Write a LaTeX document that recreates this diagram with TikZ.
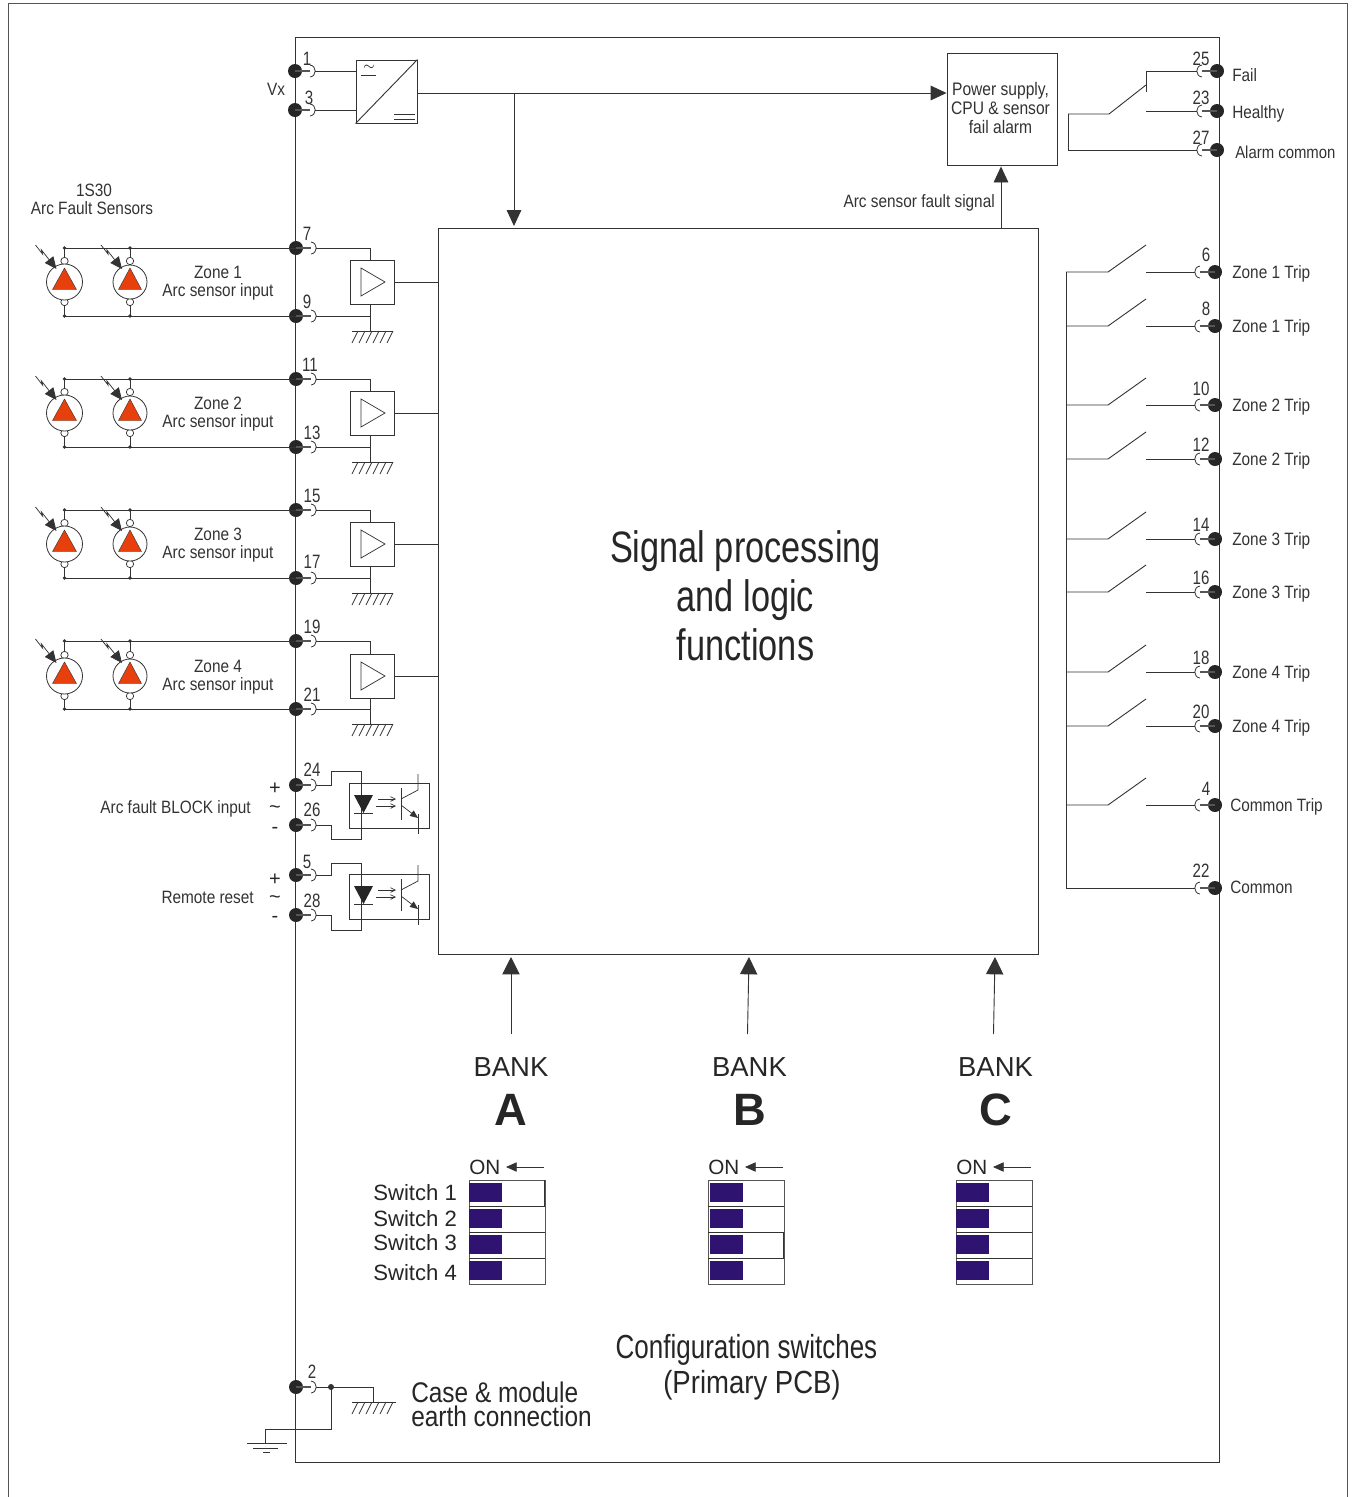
\documentclass[tikz,border=0pt]{standalone}
\usepackage{fontspec}
\setmainfont{Liberation Sans}
\newfontfamily\nar[FakeStretch=0.86]{Liberation Sans}
\newfontfamily\narb[FakeStretch=0.78]{Liberation Sans}
\usetikzlibrary{arrows.meta,calc}
\definecolor{wire}{HTML}{333333}
\definecolor{framegrey}{HTML}{555555}
\definecolor{flame}{HTML}{E8400C}
\definecolor{swblue}{HTML}{2E1470}
\newcommand{\lbl}{\nar\fontsize{13.4}{14}\selectfont}
\newcommand{\numf}{\narb\fontsize{14.5}{15}\selectfont}
\newcommand{\termL}[4]{% id x y / number at
  \node[tdot] (t#1) at (#2,#3) {};
  \coordinate (c#1) at (#2+20,#3);
  \draw[stub] (#2,#3) -- (#2+15,#3);
  \draw[cup] (#2+15,#3-6) .. controls (#2+22,#3-5) and (#2+22,#3+5) .. (#2+15,#3+6);
  \node[numtxt] (n#1) at (#4) {#1};}
\newcommand{\termR}[4]{%
  \node[tdot] (t#1) at (#2,#3) {};
  \coordinate (c#1) at (#2-20,#3);
  \draw[stub] (#2,#3) -- (#2-15,#3);
  \draw[cup] (#2-15,#3-6) .. controls (#2-22,#3-5) and (#2-22,#3+5) .. (#2-15,#3+6);
  \node[numtxt] (n#1) at (#4) {#1};}
\newcommand{\hatchg}[3]{% x1 x2 y
  \draw[wirel] (#1,#3) -- (#2,#3);
  \foreach \hi in {0,1,2,3,4,5} {\draw[thinl] ({#1+6+\hi*7},#3) -- ++(-6,12);}}
\tikzset{
  wirel/.style={draw=wire,line width=0.68pt},
  thinl/.style={draw=wire,line width=0.55pt},
  stub/.style={draw=framegrey,line width=1.4pt},
  cup/.style={draw=wire,line width=0.6pt},
  tdot/.style={circle,fill=black!85,draw=none,minimum size=10.5pt,inner sep=0pt},
  numtxt/.style={font=\numf,text=black!80,inner sep=0pt},
  label/.style={font=\lbl,text=black!80,inner sep=0pt},
  labelL/.style={label,anchor=west},
  labelR/.style={label,anchor=east},
  box/.style={draw=wire,line width=0.68pt,fill=white,inner sep=0pt},
  bigtip/.style={-{Triangle[length=13pt,width=13pt]},wirel},
  midtip/.style={-{Triangle[length=12pt,width=11pt]},wirel},
  smalltip/.style={-{Triangle[length=8pt,width=7pt]},wirel},
  opentip/.style={-{Straight Barb[length=3.5pt,width=3.5pt]},thinl},
  sensor/.style={circle,draw=wire,line width=0.6pt,fill=white,inner sep=0pt},
  lens/.style={circle,draw=wire,line width=0.55pt,fill=white,minimum size=5.5pt,inner sep=0pt},
  fire/.style={fill=flame,draw=wire,line width=0.3pt},
  swon/.style={fill=swblue,draw=none},
  bankt/.style={font=\fontsize{20.6}{22}\selectfont,text=black!85,inner sep=0pt},
  bankl/.style={font=\fontsize{34}{36}\selectfont\bfseries,text=black!85,inner sep=0pt},
  swt/.style={font=\fontsize{16.6}{18}\selectfont,text=black!85,inner sep=0pt,anchor=west},
  sign/.style={inner sep=0pt,align=center,text=black!85,font=\fontsize{15}{15}\selectfont},
}
\begin{document}
\begin{tikzpicture}[x=0.75pt,y=-0.75pt]
\useasboundingbox (0,0) rectangle (1354,1497);
% page frame
\coordinate (fa) at (8,1497); \coordinate (fb) at (8,3); \coordinate (fc) at (1347,3); \coordinate (fd) at (1347,1497);
\draw[draw=framegrey,line width=0.68pt] (fa) -- (fb) -- (fc) -- (fd);
% module frame and central block
\node[draw=wire,line width=0.68pt,minimum width=693pt,minimum height=1068.75pt,inner sep=0pt] (module) at (757,749.5) {};
\node[box,minimum width=450pt,minimum height=544.5pt] (logic) at (738,591) {};
\node[inner sep=0pt,align=center,font=\narb\fontsize{33}{36.8}\selectfont,text=black!85] (logictxt) at (745.5,596) {Signal processing\\and logic\\functions};
% left terminals
\termL{1}{295}{71}{307,59}
\termL{3}{295}{110}{309,98}
\termL{7}{296}{248}{307,234}
\termL{9}{296}{316}{307,302}
\termL{11}{296}{379}{310,365}
\termL{13}{296}{447}{312,433}
\termL{15}{296}{510}{312,496}
\termL{17}{296}{578}{312,562}
\termL{19}{296}{641}{312,627}
\termL{21}{296}{709}{312,695}
\termL{24}{296}{785}{312,770}
\termL{26}{296}{825}{312,810}
\termL{5}{296}{875}{307,862}
\termL{28}{296}{915}{312,901}
\termL{2}{296}{1387}{312,1372}
% right terminals
\termR{25}{1217}{71}{1201,59}
\termR{23}{1217}{111}{1201,98}
\termR{27}{1217}{150}{1201,138}
\termR{6}{1215}{272}{1206,255}
\termR{8}{1215}{326}{1206,309}
\termR{10}{1215}{405}{1201,389}
\termR{12}{1215}{459}{1201,445}
\termR{14}{1215}{539}{1201,525}
\termR{16}{1215}{592}{1201,578}
\termR{18}{1215}{672}{1201,658}
\termR{20}{1215}{726}{1201,712}
\termR{4}{1215}{805}{1206,789}
\termR{22}{1215}{888}{1201,871}
% converter
\node[box,minimum width=45.75pt,minimum height=47.25pt] (conv) at (386.5,91.5) {};
\draw[wirel] (conv.south west) -- (conv.north east);
\coordinate (conv1) at (conv.west |- c1); \coordinate (conv3) at (conv.west |- c3);
\draw[wirel] (c1) -- (conv1);
\draw[wirel] (c3) -- (conv3);
\node[inner sep=0pt,font=\fontsize{11}{11}\selectfont] (convtilde) at (369,68) {$\sim$};
\coordinate (cu1) at (361,75); \coordinate (cu2) at (376,75);
\draw[thinl] (cu1) -- (cu2);
\coordinate (cd1) at (394,114); \coordinate (cd2) at (415,114); \coordinate (cd3) at (394,119); \coordinate (cd4) at (415,119);
\draw[thinl] (cd1) -- (cd2);
\draw[thinl] (cd3) -- (cd4);
% power supply
\node[box,minimum width=82.5pt,minimum height=84pt] (psu) at (1002,109) {};
\node[label,align=center,font=\nar\fontsize{13.6}{14.6}\selectfont] (psutxt) at (1000.5,108) {Power supply,\\CPU \& sensor\\fail alarm};
\coordinate (bus) at (514,93);
\draw[midtip] (conv.east |- bus) -- (psu.west |- bus);
\draw[midtip] (bus) -- (514,226);
\draw[midtip] (logic.north -| psu.south) ++(-1,0) -- ($(psu.south)+(-1,1)$);
\node[labelR] (afs) at (995,203) {Arc sensor fault signal};
% relay
\coordinate (rcom) at (1068,114); \coordinate (rpiv) at (1109,114); \coordinate (rtip) at (1146,85);
\coordinate (rtop) at (1146,71); \coordinate (rbot) at (1146,92); \coordinate (rno) at (1146,111);
\draw[wirel] (c25) -- (rtop) -- (rbot);
\draw[wirel] (rcom) -- (rpiv) -- (rtip);
\draw[wirel] (rno) -- (c23);
\draw[wirel] (rcom) |- (c27);
\node[labelL] (lfail) at (1232,75) {Fail};
\node[labelL] (lhealthy) at (1232,114) {Healthy};
\node[labelL,font=\nar\fontsize{13}{14}\selectfont] (lalarm) at (1235,152) {Alarm common};
% trip contacts
\coordinate (busT) at (1066,272); \coordinate (busB) at (1066,888);
\draw[wirel] (busT) -- (busB) -- (c22);
\foreach \tn/\ty/\tl/\tx in {6/272/Zone 1 Trip/1232,8/326/Zone 1 Trip/1232,10/405/Zone 2 Trip/1232,12/459/Zone 2 Trip/1232,14/539/Zone 3 Trip/1232,16/592/Zone 3 Trip/1232,18/672/Zone 4 Trip/1232,20/726/Zone 4 Trip/1232,4/805/Common Trip/1230} {
  \coordinate (bl\tn) at (1066,\ty); \coordinate (pv\tn) at (1108,\ty);
  \coordinate (bt\tn) at (1146,\ty-27); \coordinate (fx\tn) at (1146,\ty);
  \draw[wirel] (bl\tn) -- (pv\tn) -- (bt\tn);
  \draw[wirel] (fx\tn) -- (c\tn);
  \node[labelL] (lt\tn) at (\tx,\ty+1.5) {\tl};
}
\node[labelL] (lcom) at (1230,887) {Common};
% zones
\foreach \z/\ta/\tb/\bx in {1/7/9/282,2/11/13/413,3/15/17/544,4/19/21/676} {
  \node[box,minimum width=33pt,minimum height=33pt] (amp\z) at (372,\bx) {};
  \coordinate (ax\z) at (370,\bx);
  \coordinate (ta\z) at (ax\z |- c\ta);
  \coordinate (tb\z) at (ax\z |- c\tb);
  \coordinate (at\z) at (ax\z |- amp\z.north);
  \coordinate (ab\z) at (ax\z |- amp\z.south);
  \coordinate (g\z) at ($(tb\z)+(0,15)$);
  \draw[wirel] (c\ta) -- (ta\z) -- (at\z);
  \draw[wirel] (c\tb) -- (tb\z);
  \draw[wirel] (ab\z) -- (g\z);
  \draw[thinl] ($(amp\z.center)+(-11,-14)$) -- ($(amp\z.center)+(13,0)$) -- ($(amp\z.center)+(-11,14)$) -- cycle;
  \draw[wirel] (amp\z.east) -- (logic.west |- amp\z.east);
  \foreach \s/\sx/\sd/\ob in {a/64.5/27/12,b/130/25.5/11.5} {
    \coordinate (sc\z\s) at (\sx,\bx);
    \coordinate (wt\z\s) at (sc\z\s |- c\ta);
    \coordinate (wb\z\s) at (sc\z\s |- c\tb);
    \node[lens] (lt\z\s) at (\sx,\bx-21) {};
    \node[lens] (lb\z\s) at (\sx,\bx+20) {};
    \draw[wirel] (wt\z\s) -- (lt\z\s);
    \draw[wirel] (lb\z\s) -- (wb\z\s);
    \node[sensor,minimum size=\sd pt] (se\z\s) at (\sx,\bx) {};
    \fill[fire] (\sx-\ob,\bx+7.5) -- (\sx,\bx-14) -- (\sx+\ob,\bx+7.5) -- cycle;
    \coordinate (la\z\s) at (\sx-29,\bx-37);
    \coordinate (lb2\z\s) at (\sx-22,\bx-28);
    \coordinate (lc\z\s) at (\sx-23,\bx-32);
    \draw[thinl,-{Triangle[length=9pt,width=8pt]}] (la\z\s) -- (lb2\z\s) -- (lc\z\s) -- (\sx-8,\bx-13);
    \fill[wire] (wt\z\s) circle (1.8);
    \fill[wire] (wb\z\s) circle (1.8);
  }
  \coordinate (wte\z) at (t\ta.center);
  \coordinate (wbe\z) at (t\tb.center);
  \draw[wirel] (wt\z a) -- (wte\z);
  \draw[wirel] (wb\z a) -- (wbe\z);
  \node[label] (zn\z) at (218,\bx-10) {Zone \z};
  \node[label] (zi\z) at (218,\bx+9.5) {Arc sensor input};
}
\hatchg{352}{393}{331}
\hatchg{352}{393}{462}
\hatchg{352}{393}{593}
\hatchg{352}{393}{724}
% opto couplers
\foreach \oi/\oa/\ob/\oy/\oc/\od in {1/24/26/0/771/839,2/5/28/91/863/930} {
  \node[box,fill=none,minimum width=60pt,minimum height=33.75pt] (opt\oi) at (389.5,805.5+\oy) {};
  \coordinate (oa\oi) at (331,\oc); \coordinate (ob\oi) at (361,\oc); \coordinate (oc\oi) at (361,\od); \coordinate (od\oi) at (331,\od);
  \draw[wirel] (c\oa) -| (oa\oi) -- (ob\oi) -- (oc\oi) -- (od\oi) |- (c\ob);
  \fill[black!85] (354,795+\oy) -- (373,795+\oy) -- (363.5,813+\oy) -- cycle;
  \draw[wirel] (354,813+\oy) -- (373,813+\oy);
  \draw[opentip] (378,799+\oy) -- (396,799+\oy);
  \draw[opentip] (376,806+\oy) -- (396,806+\oy);
  \draw[wirel] (401,788+\oy) -- (401,820+\oy);
  \draw[thinl] (401,799+\oy) -- (418,790+\oy) -- (418,774+\oy);
  \draw[thinl,-{Triangle[length=6pt,width=5pt]}] (401,805+\oy) -- (418,818+\oy);
  \draw[thinl] (418,814+\oy) -- (418,834+\oy);
}
\node[labelR] (lblock) at (251,809) {Arc fault BLOCK input};
\node[labelR] (lreset) at (254,897) {Remote reset};
\node[sign,font=\fontsize{15}{14.8}\selectfont] (signa) at (275,808) {+\\\textasciitilde\\-};
\node[sign,font=\fontsize{15}{14}\selectfont] (signb) at (275,898) {+\\\textasciitilde\\-};
% labels
\node[label] (vx) at (276,89) {Vx};
\node[label] (s30) at (94,190) {1S30};
\node[label] (afss) at (92,208.5) {Arc Fault Sensors};
% bank arrows & switches
\foreach \bn/\bf/\bs/\bt/\bl/\sl/\ofx in {A/511/511/511/469/469/469,B/747.5/749/749.5/708/710/708,C/993.5/995/995.5/956/956/956} {
  \coordinate (ba\bn) at (\bf,1034);
  \coordinate (bb\bn) at (\bs,957);
  \draw[bigtip] (ba\bn) -- (bb\bn);
  \node[bankt] (bk\bn) at (\bt,1067) {BANK};
  \node[bankl] (bi\bn) at (\bt,1110) {\bn};
  \node[inner sep=0pt,anchor=west,font=\fontsize{15.5}{18}\selectfont,text=black!85] (on\bn) at (\ofx,1167) {ON};
  \coordinate (oa\bn) at (\ofx+75,1167);
  \coordinate (ob\bn) at (\ofx+37,1167);
  \draw[smalltip,line width=0.6pt] (oa\bn) -- (ob\bn);
  \node[box,anchor=north west,minimum width=56.8pt,minimum height=78pt,draw=framegrey] (sw\bn) at (\ofx,1180) {};
  \foreach \r/\ry in {1/1206,2/1232,3/1258} {
    \coordinate (rl\bn\r) at (\ofx,\ry);
    \coordinate (rr\bn\r) at (\ofx+75.5,\ry);
    \draw[thinl] (rl\bn\r) -- (rr\bn\r);
  }
  \foreach \ry in {1183,1209,1235,1261} {\fill[swon] (\sl,\ry) rectangle (\sl+33,\ry+19);}
}
\coordinate (ra1) at (544,1180); \coordinate (ra2) at (544,1206);
\draw[wirel] (ra1) -- (ra2);
\coordinate (rb1) at (783,1232); \coordinate (rb2) at (783,1258);
\draw[thinl] (rb1) -- (rb2);
\node[swt] (s1) at (373,1193) {Switch 1};
\node[swt] (s2) at (373,1219) {Switch 2};
\node[swt] (s3) at (373,1243) {Switch 3};
\node[swt] (s4) at (373,1273) {Switch 4};
\node[inner sep=0pt,align=center,font=\narb\fontsize{25}{26}\selectfont,text=black!85] (cfg) at (746.5,1350) {Configuration switches};
\node[inner sep=0pt,align=center,font=\nar\fontsize{24}{26}\selectfont,text=black!85] (pcb) at (752,1385) {(Primary PCB)};
% earth
\fill[wire] (331,1387) circle (3) coordinate (ej);
\coordinate (e1) at (373,1387); \coordinate (e2) at (373,1402);
\coordinate (e3) at (331,1429); \coordinate (e4) at (265,1429); \coordinate (e5) at (265,1443);
\draw[wirel] (c2) -- (ej) -- (e1) -- (e2);
\draw[wirel] (ej) -- (e3) -- (e4) -- (e5);
\hatchg{352}{396}{1402}
\coordinate (g1a) at (247,1443); \coordinate (g1b) at (287,1443);
\coordinate (g2a) at (253,1448); \coordinate (g2b) at (278,1448);
\coordinate (g3a) at (263,1452); \coordinate (g3b) at (270,1452);
\draw[wirel] (g1a) -- (g1b); \draw[thinl] (g2a) -- (g2b); \draw[thinl] (g3a) -- (g3b);
\node[inner sep=0pt,anchor=west,align=left,font=\nar\fontsize{21.3}{18}\selectfont,text=black!85] (cm) at (411,1404) {Case \& module\\earth connection};
\end{tikzpicture}
\end{document}
